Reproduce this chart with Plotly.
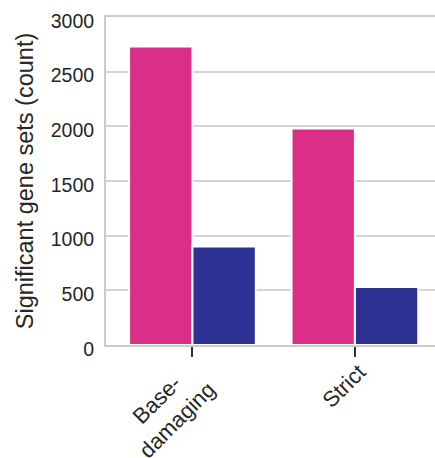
import plotly.graph_objects as go

categories = ["Base-<br>damaging", "Strict"]
series_names = ["Pink set", "Blue set"]
pink_values = [2730, 1980]
blue_values = [900, 530]
y_ticks = [0, 500, 1000, 1500, 2000, 2500, 3000]

PINK = "#DB2F87"
BLUE = "#2D3192"
TEXT = "#262626"
font_family = "Liberation Sans, Arial, sans-serif"

# per-label pixel offsets of the rotated tick labels (styling only)
label_xshift = [31, 18]
label_yshift = [-9, -12]

fig = go.Figure()
fig.add_trace(go.Bar(x=categories, y=pink_values, name=series_names[0],
                     marker=dict(color=PINK, line=dict(color="white", width=2))))
fig.add_trace(go.Bar(x=categories, y=blue_values, name=series_names[1],
                     marker=dict(color=BLUE, line=dict(color="white", width=2))))

for i, cat in enumerate(categories):
    fig.add_annotation(x=cat, xref="x", y=0, yref="paper", text=cat,
                       textangle=-45, align="center", showarrow=False,
                       xanchor="right", yanchor="top",
                       xshift=label_xshift[i], yshift=label_yshift[i],
                       font=dict(family=font_family, size=22, color=TEXT))

fig.update_layout(
    width=435, height=458,
    margin=dict(l=106, r=0, t=17, b=113),
    barmode="group", bargap=0.22, bargroupgap=0.0,
    showlegend=False,
    plot_bgcolor="white", paper_bgcolor="white",
    font=dict(family=font_family, size=20, color=TEXT),
)
fig.update_xaxes(
    range=[-0.532, 1.493],
    showline=True, linecolor="#CCCCCC", linewidth=2, mirror=True,
    ticks="outside", ticklen=10, tickwidth=2, tickcolor="#333333",
    showticklabels=False,
    showgrid=False,
)
fig.update_yaxes(
    range=[0, 3000], tickvals=y_ticks,
    showline=True, linecolor="#CCCCCC", linewidth=2, mirror=False,
    showgrid=True, gridcolor="#D4D4D4", gridwidth=2,
    zeroline=False, ticks="", ticklen=0,
    ticklabelshift=4, ticklabelstandoff=6,
    tickfont=dict(size=19.5, color=TEXT),
    title=dict(text="Significant gene sets (count)", font=dict(size=23.5, color=TEXT), standoff=10),
)
fig.write_html("out.html")
